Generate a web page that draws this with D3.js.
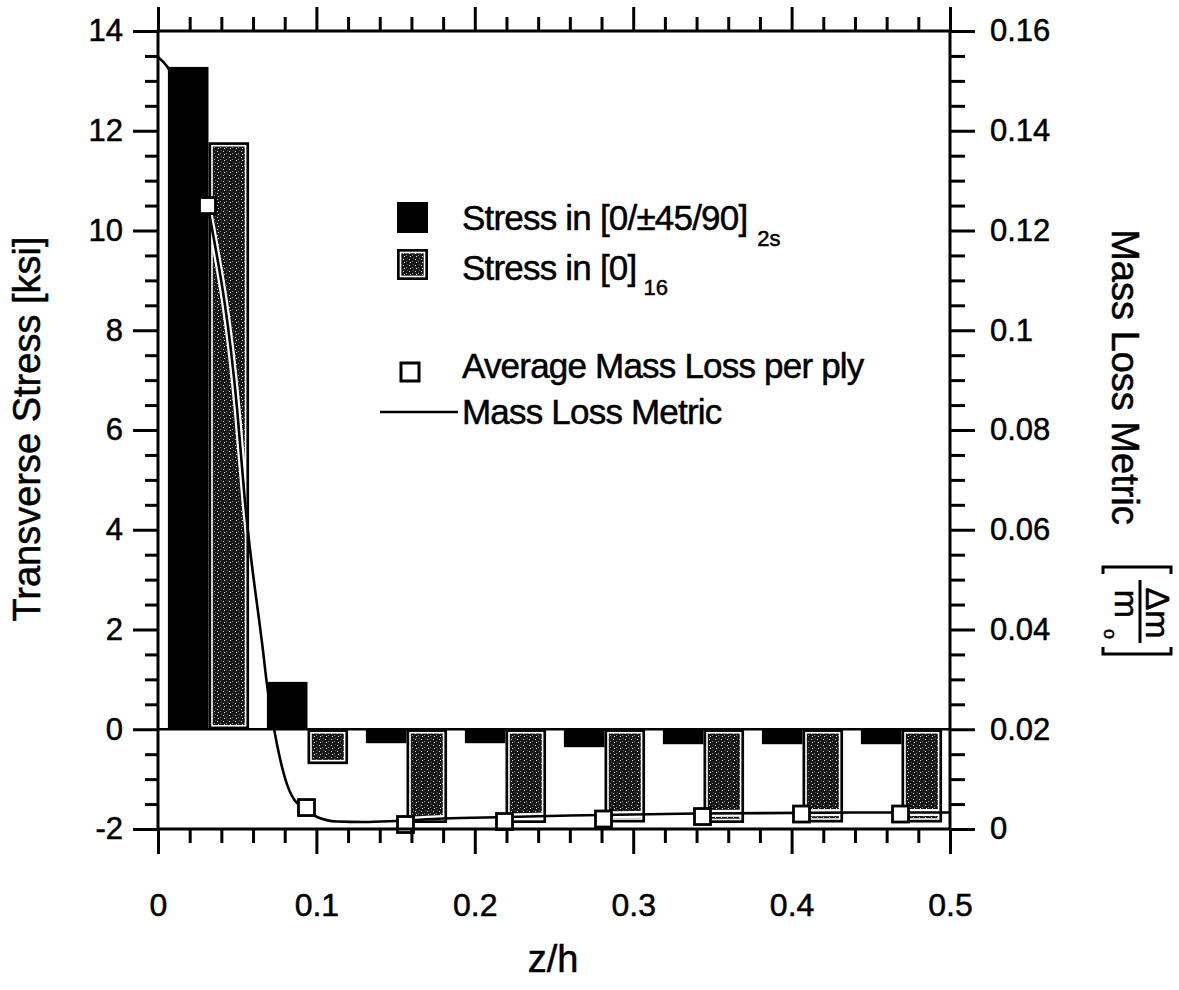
<!DOCTYPE html>
<html>
<head>
<meta charset="utf-8">
<script src="https://cdn.jsdelivr.net/npm/d3@7"></script>
<style>
  html, body { margin: 0; padding: 0; background: #fff; }
  svg { display: block; }
  text { font-family: "Liberation Sans", Arial, Helvetica, sans-serif; fill: #000; stroke: #000; stroke-width: 0.5px; }
</style>
</head>
<body>
<svg id="chart" width="1179" height="990"></svg>
<script>
// ---------------- data ----------------
const plies = ["1", "2", "3", "4", "5", "6", "7", "8"];
const seriesKeys = ["crossPly", "unidirectional"];
const stressCrossPly = [13.28, 0.95, -0.28, -0.28, -0.36, -0.30, -0.30, -0.30];   // [0/±45/90]2s  (ksi)
const stressUni      = [11.77, -0.70, -1.88, -1.88, -1.87, -1.88, -1.87, -1.87]; // [0]16 (ksi)
const avgMassLossPly = [0.1250, 0.0043, 0.0009, 0.0015, 0.0020, 0.0025, 0.0030, 0.0030];
const metricZ   = [0, 0.006, 0.0313, 0.050, 0.055, 0.0663, 0.0688, 0.0739, 0.0814, 0.0878, 0.0941, 0.1004, 0.113, 0.130, 0.150, 0.180, 0.220, 0.260, 0.340, 0.440, 0.500];
const metricVal = [0.1548, 0.1528, 0.1251, 0.0840, 0.0653, 0.0357, 0.0290, 0.0190, 0.0090, 0.0052, 0.0042, 0.0024, 0.0015, 0.0014, 0.0016, 0.0021, 0.0024, 0.0027, 0.0031, 0.0033, 0.0033];
const xTickValues = [0, 0.1, 0.2, 0.3, 0.4, 0.5];
const xTickLabels = ["0", "0.1", "0.2", "0.3", "0.4", "0.5"];
const yLeftTickValues = [-2, 0, 2, 4, 6, 8, 10, 12, 14];
const yLeftTickLabels = ["-2", "0", "2", "4", "6", "8", "10", "12", "14"];
const yRightTickValues = [0, 0.02, 0.04, 0.06, 0.08, 0.1, 0.12, 0.14, 0.16];
const yRightTickLabels = ["0", "0.02", "0.04", "0.06", "0.08", "0.1", "0.12", "0.14", "0.16"];

// ---------------- layout ----------------
const L = 158, R = 950, T = 31, B = 829;
const svg = d3.select("#chart");

const x = d3.scaleLinear().domain([0, 0.5]).range([L, R]);
const y = d3.scaleLinear().domain([-2, 14]).range([B, T]);
const y2 = d3.scaleLinear().domain([0, 0.16]).range([B, T]);
const plyBand = d3.scaleBand().domain(plies).range([x(0), x(0.5)]);
const bw = plyBand.bandwidth();
const inner = d3.scaleBand().domain(seriesKeys).range([bw * 0.10, bw * 0.92]);

// stipple pattern for the [0]16 bars
const defs = svg.append("defs");
const pat = defs.append("pattern").attr("id", "stip").attr("width", 6).attr("height", 6)
  .attr("patternUnits", "userSpaceOnUse");
pat.append("rect").attr("width", 6).attr("height", 6).attr("fill", "#161616");
[[1,1,"#d0d0d0"],[4,3,"#8c8c8c"],[2,4,"#e6e6e6"],[5,0,"#5a5a5a"]].forEach(([px,py,c]) =>
  pat.append("rect").attr("x", px).attr("y", py).attr("width", 1).attr("height", 1).attr("fill", c));

const barData = plies.map((p, i) => ({ ply: p, cross: stressCrossPly[i], uni: stressUni[i], mass: avgMassLossPly[i] }));

// cross-ply bars (solid black)
svg.append("g").selectAll("rect").data(barData).join("rect")
  .attr("x", d => plyBand(d.ply) + inner("crossPly"))
  .attr("width", inner.bandwidth())
  .attr("y", d => y(Math.max(0, d.cross)))
  .attr("height", d => Math.abs(y(d.cross) - y(0)))
  .attr("fill", "#000");

// unidirectional bars (black frame, white inner border, stipple)
const uniG = svg.append("g");
uniG.selectAll("rect.outer").data(barData).join("rect").attr("class", "outer")
  .attr("x", d => plyBand(d.ply) + inner("unidirectional"))
  .attr("width", inner.bandwidth())
  .attr("y", d => y(Math.max(0, d.uni)))
  .attr("height", d => Math.abs(y(d.uni) - y(0)))
  .attr("fill", "#000");
uniG.selectAll("rect.inner").data(barData).join("rect").attr("class", "inner")
  .attr("x", d => plyBand(d.ply) + inner("unidirectional") + 3.5)
  .attr("width", inner.bandwidth() - 7)
  .attr("y", d => y(Math.max(0, d.uni)) + 3.5)
  .attr("height", d => Math.abs(y(d.uni) - y(0)) - 7)
  .attr("fill", "url(#stip)").attr("stroke", "#fff").attr("stroke-width", 1.6);

// clip of the stippled bars (white halo of the curve inside them)
const clip = defs.append("clipPath").attr("id", "uniClip");
clip.selectAll("rect").data(barData).join("rect")
  .attr("x", d => plyBand(d.ply) + inner("unidirectional") + 3)
  .attr("width", inner.bandwidth() - 6)
  .attr("y", d => y(Math.max(0, d.uni)) + 3)
  .attr("height", d => Math.abs(y(d.uni) - y(0)) - 6);

// zero line
svg.append("line").attr("x1", L).attr("x2", R).attr("y1", y(0)).attr("y2", y(0))
  .attr("stroke", "#000").attr("stroke-width", 2.5);

// mass loss metric curve
const metricPts = metricZ.map((z, i) => [z, metricVal[i]]);
const line = d3.line().x(d => x(d[0])).y(d => y2(d[1])).curve(d3.curveMonotoneX);
svg.append("path").attr("d", line(metricPts)).attr("fill", "none")
  .attr("stroke", "#fff").attr("stroke-width", 7).attr("clip-path", "url(#uniClip)");
svg.append("path").attr("d", line(metricPts)).attr("fill", "none")
  .attr("stroke", "#000").attr("stroke-width", 2.6);

// average mass loss squares
const sq = 16;
svg.append("g").selectAll("rect").data(barData).join("rect")
  .attr("x", d => plyBand(d.ply) + bw / 2 - sq / 2)
  .attr("y", d => y2(d.mass) - sq / 2)
  .attr("width", sq).attr("height", sq)
  .attr("fill", "#fff").attr("stroke", "#000").attr("stroke-width", 2.8);

// frame
svg.append("rect").attr("x", L).attr("y", T).attr("width", R - L).attr("height", B - T)
  .attr("fill", "none").attr("stroke", "#000").attr("stroke-width", 3);

// ---------------- axes ----------------
function styleAxis(g, fs) {
  g.select(".domain").remove();
  g.selectAll(".tick line").attr("stroke", "#000").attr("stroke-width", 3);
  g.selectAll(".tick text").attr("font-size", fs)
    .attr("font-family", "'Liberation Sans', Arial, Helvetica, sans-serif").attr("fill", "#000");
  g.attr("font-family", null).attr("font-size", null);
}
const xMinor = d3.range(0, 0.5001, 0.02).filter(v => !xTickValues.some(t => Math.abs(t - v) < 1e-6));
const yMinor = d3.range(-2, 14.001, 0.5).filter(v => !yLeftTickValues.some(t => Math.abs(t - v) < 1e-6));
const y2Minor = d3.range(0, 0.16001, 0.005).filter(v => !yRightTickValues.some(t => Math.abs(t - v) < 1e-6));

// bottom
const gb = svg.append("g").attr("transform", `translate(0,${B})`)
  .call(d3.axisBottom(x).tickValues(xTickValues).tickSize(25).tickPadding(39)
    .tickFormat((d, i) => xTickLabels[i]));
styleAxis(gb, 32);
const gbm = svg.append("g").attr("transform", `translate(0,${B})`)
  .call(d3.axisBottom(x).tickValues(xMinor).tickSize(14).tickFormat(""));
styleAxis(gbm, 10);
// top
const gt = svg.append("g").attr("transform", `translate(0,${T})`)
  .call(d3.axisTop(x).tickValues(xTickValues).tickSize(24).tickFormat(""));
styleAxis(gt, 10);
const gtm = svg.append("g").attr("transform", `translate(0,${T})`)
  .call(d3.axisTop(x).tickValues(xMinor).tickSize(14).tickFormat(""));
styleAxis(gtm, 10);
// left
const gl = svg.append("g").attr("transform", `translate(${L},0)`)
  .call(d3.axisLeft(y).tickValues(yLeftTickValues).tickSize(25).tickPadding(10)
    .tickFormat((d, i) => yLeftTickLabels[i]));
styleAxis(gl, 31);
const glm = svg.append("g").attr("transform", `translate(${L},0)`)
  .call(d3.axisLeft(y).tickValues(yMinor).tickSize(13).tickFormat(""));
styleAxis(glm, 10);
// right
const gr = svg.append("g").attr("transform", `translate(${R},0)`)
  .call(d3.axisRight(y2).tickValues(yRightTickValues).tickSize(25).tickPadding(15)
    .tickFormat((d, i) => yRightTickLabels[i]));
styleAxis(gr, 31);
const grm = svg.append("g").attr("transform", `translate(${R},0)`)
  .call(d3.axisRight(y2).tickValues(y2Minor).tickSize(15).tickFormat(""));
styleAxis(grm, 10);

// ---------------- titles ----------------
svg.append("text").attr("x", 553).attr("y", 972).attr("text-anchor", "middle")
  .attr("font-size", 38).text("z/h");
svg.append("text").attr("transform", "translate(40,429) rotate(-90)").attr("text-anchor", "middle")
  .attr("font-size", 38).text("Transverse Stress [ksi]");
svg.append("text").attr("transform", "translate(1112,377) rotate(90)").attr("text-anchor", "middle")
  .attr("font-size", 38).text("Mass Loss Metric");

// unit bracket [Δm / m_o], rotated
const ub = svg.append("g").attr("transform", "translate(1137,610) rotate(90)");
ub.append("path").attr("d", "M-36,-34 L-43,-34 L-43,34 L-36,34").attr("fill", "none")
  .attr("stroke", "#000").attr("stroke-width", 3);
ub.append("path").attr("d", "M37,-34 L44,-34 L44,34 L37,34").attr("fill", "none")
  .attr("stroke", "#000").attr("stroke-width", 3);
ub.append("text").attr("x", 3).attr("y", -9).attr("text-anchor", "middle").attr("font-size", 34).text("Δm");
ub.append("line").attr("x1", -30).attr("x2", 33).attr("y1", -3).attr("y2", -3)
  .attr("stroke", "#000").attr("stroke-width", 3);
ub.append("text").attr("x", -6).attr("y", 22).attr("text-anchor", "middle").attr("font-size", 34).text("m");
ub.append("text").attr("x", 24).attr("y", 33).attr("text-anchor", "middle").attr("font-size", 18).text("o");

// ---------------- legend ----------------
const lg = svg.append("g");
const lfs = 35;
lg.append("rect").attr("x", 397).attr("y", 202).attr("width", 31).attr("height", 31).attr("fill", "#000");
lg.append("rect").attr("x", 397).attr("y", 249).attr("width", 31).attr("height", 31).attr("fill", "#000");
lg.append("rect").attr("x", 400.5).attr("y", 252.5).attr("width", 24).attr("height", 24)
  .attr("fill", "url(#stip)").attr("stroke", "#fff").attr("stroke-width", 1.6);
const t1 = lg.append("text").attr("x", 462).attr("y", 230).attr("font-size", lfs).attr("letter-spacing", -0.8);
t1.append("tspan").text("Stress in [0/±45/90]");
t1.append("tspan").attr("dx", 10).attr("dy", 16).attr("font-size", 22).attr("letter-spacing", 0).text("2s");
const t2 = lg.append("text").attr("x", 462).attr("y", 280).attr("font-size", lfs).attr("letter-spacing", -0.8);
t2.append("tspan").text("Stress in [0]");
t2.append("tspan").attr("dx", 7).attr("dy", 15).attr("font-size", 22).attr("letter-spacing", 0).text("16");
lg.append("rect").attr("x", 401).attr("y", 363).attr("width", 18).attr("height", 18)
  .attr("fill", "#fff").attr("stroke", "#000").attr("stroke-width", 3);
lg.append("text").attr("x", 462).attr("y", 378).attr("font-size", lfs).attr("letter-spacing", -0.8).text("Average Mass Loss per ply");
lg.append("line").attr("x1", 380).attr("x2", 458).attr("y1", 412).attr("y2", 412)
  .attr("stroke", "#000").attr("stroke-width", 2.6);
lg.append("text").attr("x", 462).attr("y", 424).attr("font-size", lfs).attr("letter-spacing", -0.8).text("Mass Loss Metric");
</script>
</body>
</html>
